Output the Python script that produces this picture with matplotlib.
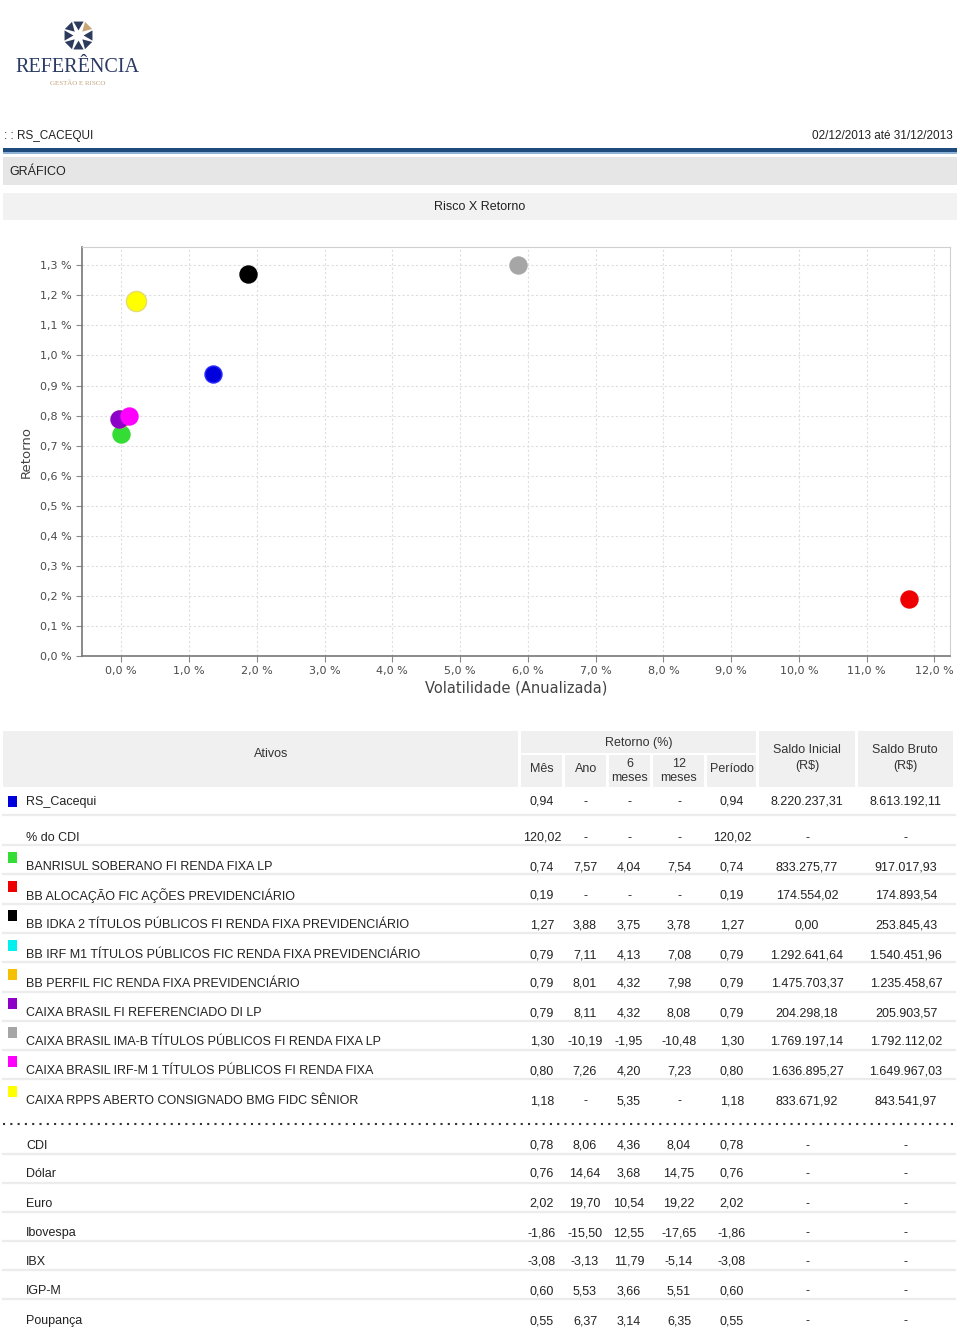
import matplotlib
matplotlib.use("Agg")
import matplotlib.pyplot as plt
from matplotlib.patches import Rectangle
import numpy as np

# ---- dados do grafico (Risco X Retorno) ----
fund_names = ["BANRISUL SOBERANO FI RENDA FIXA LP",
              "BB ALOCAÇÃO FIC AÇÕES PREVIDENCIÁRIO",
              "BB IDKA 2 TÍTULOS PÚBLICOS FI RENDA FIXA PREVIDENCIÁRIO",
              "BB IRF M1 TÍTULOS PÚBLICOS FIC RENDA FIXA PREVIDENCIÁRIO",
              "BB PERFIL FIC RENDA FIXA PREVIDENCIÁRIO",
              "CAIXA BRASIL FI REFERENCIADO DI LP",
              "CAIXA BRASIL IMA-B TÍTULOS PÚBLICOS FI RENDA FIXA LP",
              "CAIXA BRASIL IRF-M 1 TÍTULOS PÚBLICOS FI RENDA FIXA",
              "CAIXA RPPS ABERTO CONSIGNADO BMG FIDC SÊNIOR"]
fund_colors = ["#33dd33", "#ee0000", "#000000", "#00f0f0", "#f5c000",
               "#8c00c8", "#a6a6a6", "#ff00ff", "#ffff00"]
# volatilidade anualizada (%) e retorno no mes (%)
fund_vol = [0.00, 11.63, 1.87, -0.02, -0.02, -0.03, 5.85, 0.11, 0.21]
fund_ret = [0.74, 0.19, 1.27, 0.79, 0.79, 0.79, 1.30, 0.80, 1.18]

cart_name = "RS_Cacequi"
cart_color = "#0000dd"
cart_vol = 1.36
cart_ret = 0.94

# ---- dados da tabela ----
cart_row = ["0,94", "-", "-", "-", "0,94", "8.220.237,31", "8.613.192,11"]
cdi_pct_row = ["120,02", "-", "-", "-", "120,02", "-", "-"]
fund_rows = [["0,74", "7,57", "4,04", "7,54", "0,74", "833.275,77", "917.017,93"],
             ["0,19", "-", "-", "-", "0,19", "174.554,02", "174.893,54"],
             ["1,27", "3,88", "3,75", "3,78", "1,27", "0,00", "253.845,43"],
             ["0,79", "7,11", "4,13", "7,08", "0,79", "1.292.641,64", "1.540.451,96"],
             ["0,79", "8,01", "4,32", "7,98", "0,79", "1.475.703,37", "1.235.458,67"],
             ["0,79", "8,11", "4,32", "8,08", "0,79", "204.298,18", "205.903,57"],
             ["1,30", "-10,19", "-1,95", "-10,48", "1,30", "1.769.197,14", "1.792.112,02"],
             ["0,80", "7,26", "4,20", "7,23", "0,80", "1.636.895,27", "1.649.967,03"],
             ["1,18", "-", "5,35", "-", "1,18", "833.671,92", "843.541,97"]]
bench_names = ["CDI", "Dólar", "Euro", "Ibovespa", "IBX", "IGP-M", "Poupança"]
bench_rows = [["0,78", "8,06", "4,36", "8,04", "0,78", "-", "-"],
              ["0,76", "14,64", "3,68", "14,75", "0,76", "-", "-"],
              ["2,02", "19,70", "10,54", "19,22", "2,02", "-", "-"],
              ["-1,86", "-15,50", "12,55", "-17,65", "-1,86", "-", "-"],
              ["-3,08", "-3,13", "11,79", "-5,14", "-3,08", "-", "-"],
              ["0,60", "5,53", "3,66", "5,51", "0,60", "-", "-"],
              ["0,55", "6,37", "3,14", "6,35", "0,55", "-", "-"]]

xticks = np.arange(0, 13)
yticks = np.arange(0, 14) / 10.0

FONT = "Liberation Sans"
TXT = "#222222"

fig = plt.figure(figsize=(9.6, 13.3), dpi=100)
fig.patch.set_facecolor("white")

# pagina inteira em coordenadas de pixel
page = fig.add_axes([0, 0, 1, 1])
page.set_xlim(0, 960)
page.set_ylim(1330, 0)
page.axis("off")

def rect(x0, y0, x1, y1, color):
    page.add_patch(Rectangle((x0, y0), x1 - x0, y1 - y0, facecolor=color, edgecolor="none"))

def txt(x, y, s, ha="left", size=9, color=TXT, **kw):
    page.text(x, y + 1, s, ha=ha, va="center", fontsize=size, color=color, family=FONT, **kw)

# logo
cx, cy = 78, 35
for k in range(8):
    ang = np.pi / 2 - k * np.pi / 4
    col = "#c9a678" if k == 1 else "#2c3a5e"
    page.plot(cx + 11 * np.cos(ang), cy - 11 * np.sin(ang), marker=(3, 0, np.degrees(ang) + 90),
              ms=8.5, color=col, mec="none")
page.text(77, 68, "REFERÊNCIA", ha="center", va="center", fontsize=14.5, color="#2b3a63",
          family="Liberation Serif")
page.text(78, 83, "GESTÃO E RISCO", ha="center", va="center", fontsize=5, color="#c4a47c",
          family="Liberation Serif")

# cabecalho
txt(4, 135, ": : RS_CACEQUI", size=8.5)
txt(953, 135, "02/12/2013 até 31/12/2013", ha="right", size=8.5)
rect(3, 148, 957, 152, "#1f4a7c")
rect(3, 152, 957, 153.5, "#8fb3d6")
rect(3, 157, 957, 185, "#e6e6e6")
txt(9, 171, "GRÁFICO")
rect(3, 193, 957, 220, "#f2f2f2")
txt(480, 206, "Risco X Retorno", ha="center")

# ---- grafico de dispersao ----
ax = fig.add_axes([82 / 960, 1 - 656 / 1330, (950 - 82) / 960, (656 - 247) / 1330])
ax.set_xlim(-0.58, 12.23)
ax.set_ylim(0, 1.361)
ax.set_xticks(xticks)
ax.set_yticks(yticks)
ax.set_xticklabels([f"{v:.1f} %".replace(".", ",") for v in xticks])
ax.set_yticklabels([f"{v:.1f} %".replace(".", ",") for v in yticks])
ax.tick_params(labelsize=8, labelcolor="#4a4a4a", color="#888888", length=4, direction="out")
ax.grid(True, color="#dedede", linestyle=(0, (2, 2)), linewidth=0.8)
ax.set_axisbelow(True)
for side in ["top", "right"]:
    ax.spines[side].set_color("#d0d0d0")
for side in ["left", "bottom"]:
    ax.spines[side].set_color("#777777")
    ax.spines[side].set_linewidth(1.2)

for i in range(len(fund_names)):
    size = 210 if fund_colors[i] == "#ffff00" else 150
    edge = "#e6dc70" if fund_colors[i] == "#ffff00" else fund_colors[i]
    ax.scatter(fund_vol[i], fund_ret[i], s=size, color=fund_colors[i], edgecolor=edge,
               linewidth=1, zorder=3)
ax.scatter(cart_vol, cart_ret, s=150, color=cart_color, edgecolor="#2a2aff", linewidth=1, zorder=3)

ax.set_xlabel("Volatilidade (Anualizada)", fontsize=10.5, color="#444444", labelpad=3)
ax.set_ylabel("Retorno", fontsize=9.5, color="#444444", labelpad=5)

# ---- tabela ----
col_x = [542, 585, 629, 679, 732, 807, 906]

rect(3, 731, 518, 787, "#f0f0f0")
rect(521, 731, 756, 753, "#f0f0f0")
sub_cells = [(521, 562), (565, 606), (609, 650), (653, 704), (707, 756)]
for a, b in sub_cells:
    rect(a, 755, b, 787, "#f0f0f0")
rect(759, 731, 855, 787, "#f0f0f0")
rect(858, 731, 953, 787, "#f0f0f0")

txt(271, 753, "Ativos", ha="center", color="#333333")
txt(639, 742, "Retorno (%)", ha="center", color="#333333")
txt(542, 768, "Mês", ha="center", color="#333333")
txt(586, 768, "Ano", ha="center", color="#333333")
txt(630, 770, "6\nmeses", ha="center", color="#333333", linespacing=1.3)
txt(679, 770, "12\nmeses", ha="center", color="#333333", linespacing=1.3)
txt(732, 768, "Período", ha="center", color="#333333")
txt(807, 757, "Saldo Inicial\n(R$)", ha="center", color="#333333", linespacing=1.5)
txt(905, 757, "Saldo Bruto\n(R$)", ha="center", color="#333333", linespacing=1.5)

def row(y, name, values):
    txt(26, y, name)
    for j, v in enumerate(values):
        txt(col_x[j], y, v, ha="center")

row(801, cart_name, cart_row)
rect(8, 796, 17, 807, cart_color)
row(837, "% do CDI", cdi_pct_row)

fund_y = [866, 895, 924, 954, 983, 1012, 1041, 1070, 1100]
for i in range(len(fund_names)):
    row(fund_y[i], fund_names[i], fund_rows[i])
    rect(8, fund_y[i] - 14, 17, fund_y[i] - 3, fund_colors[i])

bench_y = [1145, 1173, 1203, 1232, 1261, 1290, 1320]
for i in range(len(bench_names)):
    row(bench_y[i], bench_names[i], bench_rows[i])

for y in [815, 845, 874, 904, 933, 962, 992, 1021, 1050, 1079,
          1154, 1183, 1212, 1241, 1270, 1299]:
    page.plot([3, 955], [y, y], color="#ececec", linewidth=1.6)

page.plot([3, 955], [1124, 1124], color="#333333", linewidth=1.5, linestyle=(0, (1, 2.5)))

fig.savefig("out.png", dpi=100, facecolor="white")
